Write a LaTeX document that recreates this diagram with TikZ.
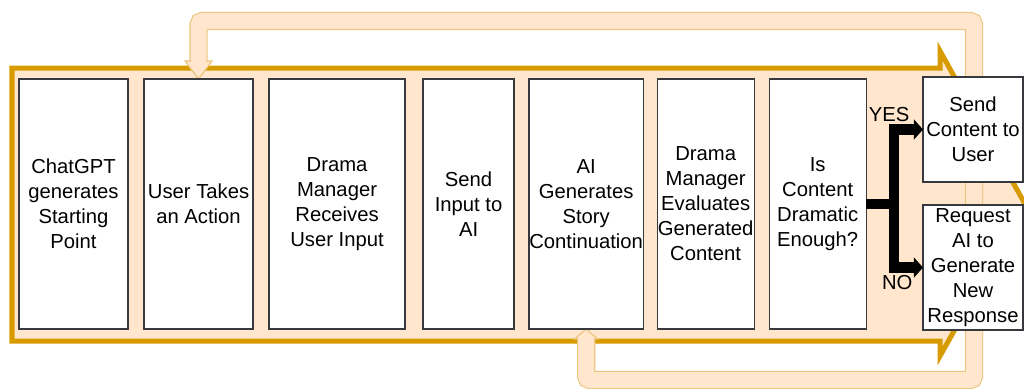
\documentclass[tikz,border=0pt]{standalone}
\usepackage{fontspec}
\setmainfont{Liberation Sans}
\usepackage{xcolor}
\usepackage{tikz}
\usetikzlibrary{positioning}
\usetikzlibrary{calc}
\usetikzlibrary{arrows.meta}

\definecolor{peach}{HTML}{FFE6CC}
\definecolor{amber}{HTML}{D79B00}
\definecolor{paleamber}{HTML}{ECC47E}
\definecolor{boxline}{HTML}{36393D}

\pgfdeclarelayer{bg}
\pgfsetlayers{bg,main}

\begin{document}
\begin{tikzpicture}[x = 0.025cm, y = -0.025cm, node distance = 0.4cm, font = \fontsize{14.4}{17.8}\selectfont, stage/.style = {rectangle, draw = boxline, fill = white, line width = 0.9pt, align = center, minimum height = 6.25cm, inner xsep = 0pt, inner ysep = 1pt, outer sep = 0pt}, flow/.style = {draw = amber, fill = peach, line width = 0.125cm, line join = miter}, loopy/.style = {draw = paleamber, double = peach, double distance = 0.4cm, line width = 0.8pt, rounded corners = 0.1cm}, tip/.style = {draw = paleamber, fill = peach, line width = 0.8pt, line join = miter}, br/.style = {line width = 0.26cm, -{Triangle[length = 6.5pt, width = 14.5pt, line width = 0pt]}}]
\useasboundingbox (0,0) rectangle (1024,388);
\node[stage, minimum width = 2.725cm] (A) at (73.5,204) {ChatGPT\\generates\\Starting\\Point};
\node[stage, minimum width = 2.725cm] (B) [right = of A] {User Takes\\an Action};
\node[stage, minimum width = 3.4cm] (C) [right = of B] {Drama\\Manager\\Receives\\User Input};
\node[stage, minimum width = 2.275cm] (D) [right = 0.45cm of C] {Send\\Input to\\AI};
\node[stage, minimum width = 2.85cm] (E) [right = 0.375cm of D] {AI\\Generates\\Story\\Continuation};
\node[stage, minimum width = 2.425cm] (F) [right = 0.35cm of E] {Drama\\Manager\\Evaluates\\Generated\\Content};
\node[stage, minimum width = 2.425cm] (G) [right = 0.375cm of F] {Is\\Content\\Dramatic\\Enough?};
\node[stage, minimum width = 2.5cm, minimum height = 2.625cm] (S) at (973,129.5) {Send\\Content to\\User};
\node[stage, minimum width = 2.5cm, minimum height = 3.125cm] (R) [below = 0.575cm of S] {Request\\AI to\\Generate\\New\\Response};
% yes / no split
\coordinate (fork) at ($(G.east)+(28,0)$);
\draw[br] (G.east) -- (fork) |- (S.west);
\draw[br] (G.east) -- (fork) |- (R.west);
\node (yes) at ($(fork |- S.west)+(-5,-15)$) {YES};
\node (no) at ($(fork |- R.west)+(3,15)$) {NO};
\begin{pgfonlayer}{bg}
% big process arrow
\draw[flow] (12,68) -- (940,68) -- (940,51) -- (1025,204) -- (940,356) -- (940,341) -- (12,341) -- cycle;
% loop back from the story step to the user
\coordinate (lb) at (974,380);
\coordinate (lt) at (974,21);
\filldraw[tip] (E.south) -- ++(-11.5,10) -- ++(23,0) -- cycle;
\filldraw[tip] (B.north) -- ++(-13.5,-18) -- ++(27,0) -- cycle;
\draw[loopy] ($(E.south)+(0,9)$) -- (E.south |- lb) -- (lb) -- (lt) -- (B.north |- lt) -- ($(B.north)+(0,-17)$);
\end{pgfonlayer}
\end{tikzpicture}
\end{document}
